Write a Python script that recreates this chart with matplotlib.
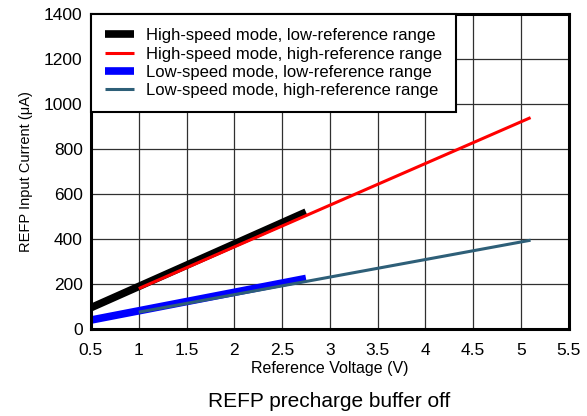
import matplotlib.pyplot as plt

plt.rcParams['font.family'] = ['Liberation Sans', 'DejaVu Sans']

# reference voltage (V) and input current (uA)
hs_low_x = [0.5, 2.75]
hs_low_y = [95, 520]
hs_high_x = [1.0, 5.1]
hs_high_y = [180, 940]
ls_low_x = [0.5, 2.75]
ls_low_y = [40, 225]
ls_high_x = [1.0, 5.1]
ls_high_y = [75, 395]

labels = ['High-speed mode, low-reference range',
          'High-speed mode, high-reference range',
          'Low-speed mode, low-reference range',
          'Low-speed mode, high-reference range']

fig = plt.figure(figsize=(5.87, 4.16), dpi=100)
ax = fig.add_axes([0.155, 0.209, 0.814, 0.757])

ax.plot(hs_low_x, hs_low_y, color='black', lw=5.5, solid_capstyle='butt', label=labels[0])
ax.plot(hs_high_x, hs_high_y, color='#ff0000', lw=2.2, solid_capstyle='butt', label=labels[1])
ax.plot(ls_low_x, ls_low_y, color='#0000ff', lw=5.5, solid_capstyle='butt', label=labels[2])
ax.plot(ls_high_x, ls_high_y, color='#2e5f78', lw=2.2, solid_capstyle='butt', label=labels[3])

ax.set_xlim(0.5, 5.5)
ax.set_ylim(0, 1400)
ax.set_xticks([0.5, 1, 1.5, 2, 2.5, 3, 3.5, 4, 4.5, 5, 5.5])
ax.set_xticklabels(['0.5', '1', '1.5', '2', '2.5', '3', '3.5', '4', '4.5', '5', '5.5'])
ax.set_yticks(range(0, 1401, 200))
ax.grid(True, color='#303030', lw=0.9)
ax.set_axisbelow(True)
ax.tick_params(length=0, labelsize=12.5)
ax.tick_params(axis='x', pad=10)
ax.tick_params(axis='y', pad=6)
for s in ax.spines.values():
    s.set_linewidth(2.2)

ax.set_xlabel('Reference Voltage (V)', fontsize=11.5, labelpad=2)
ax.set_ylabel('REFP Input Current (\u03bcA)', fontsize=10.5, labelpad=8)

leg = ax.legend(loc='upper left', borderaxespad=0, fontsize=12, fancybox=False,
                framealpha=1, edgecolor='black', handlelength=1.75,
                labelspacing=0.2, borderpad=0.85, handletextpad=0.7)
leg.get_frame().set_linewidth(1.5)

fig.text(0.56, 0.022, 'REFP precharge buffer off', ha='center', fontsize=15)

fig.savefig('out.png', dpi=100)
